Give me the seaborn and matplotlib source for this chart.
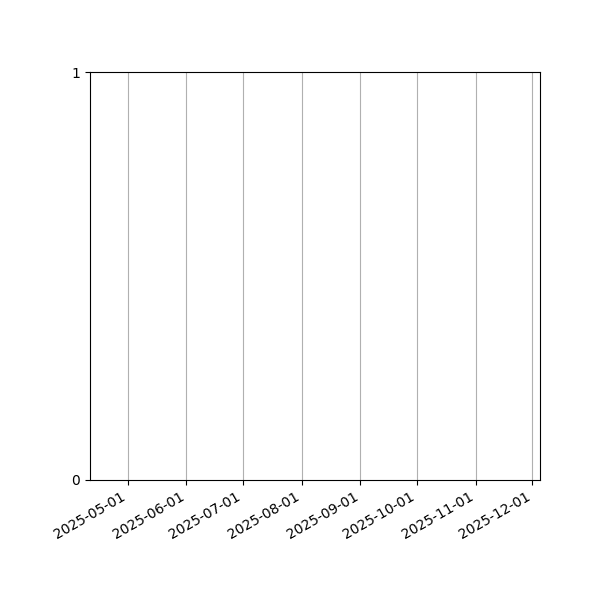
import pandas as pd
import numpy as np
import matplotlib
matplotlib.use("Agg")
import matplotlib.pyplot as plt
import matplotlib.dates as mdates
import seaborn as sns

# data (chart is empty - only the axis range is known)
dates = []
values = []
x_range = ["2025-04-11", "2025-12-05"]
y_ticks = [0, 1]

df = pd.DataFrame({"date": pd.to_datetime(dates), "value": pd.Series(values, dtype=float)})

fig, ax = plt.subplots(figsize=(6, 6), dpi=100)
fig.subplots_adjust(left=0.15, right=0.9, top=0.88, bottom=0.2)

if len(df) > 0:
    sns.lineplot(data=df, x="date", y="value", ax=ax)

ax.set_xlim(pd.to_datetime(x_range[0]), pd.to_datetime(x_range[1]))
ax.set_ylim(0, 1)
ax.set_yticks(y_ticks)
ax.xaxis.set_major_locator(mdates.MonthLocator())
ax.xaxis.set_major_formatter(mdates.DateFormatter("%Y-%m-%d"))
ax.xaxis.grid(True)
ax.set_xlabel("")
ax.set_ylabel("")
plt.setp(ax.get_xticklabels(), rotation=30, ha="right")

fig.savefig("out.png")
